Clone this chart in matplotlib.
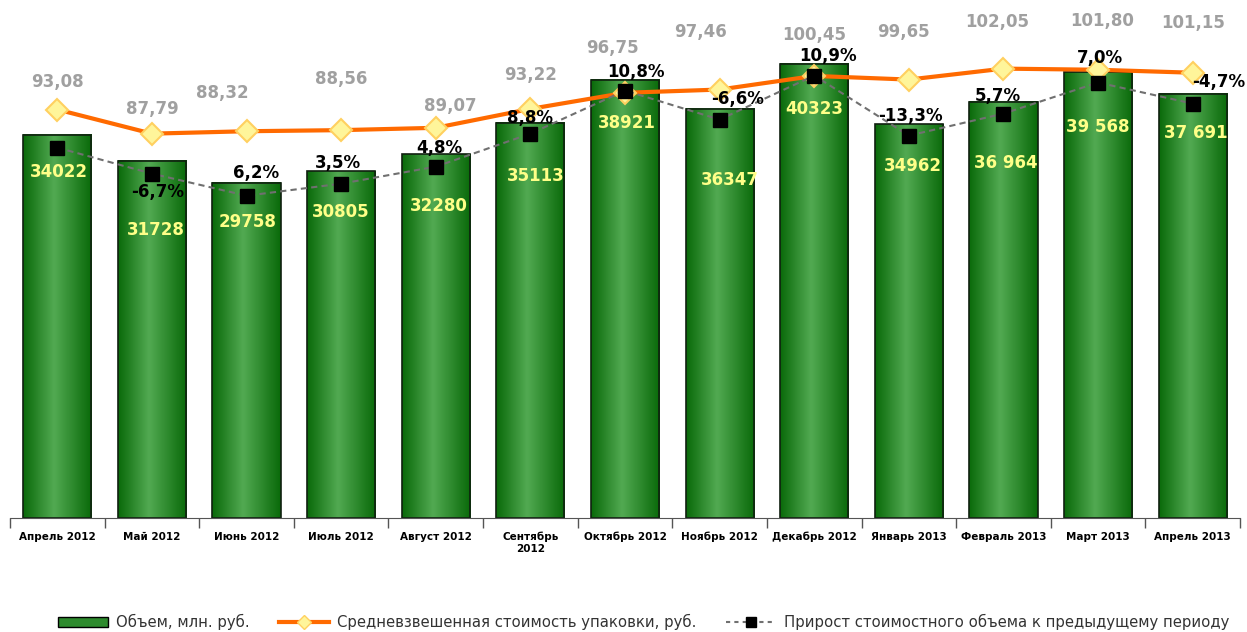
import numpy as np
import matplotlib
matplotlib.use("Agg")
import matplotlib.pyplot as plt
from matplotlib.colors import LinearSegmentedColormap
from matplotlib.patches import Patch
from matplotlib.lines import Line2D

# данные
months = ["Апрель 2012", "Май 2012", "Июнь 2012", "Июль 2012", "Август 2012",
          "Сентябрь\n2012", "Октябрь 2012", "Ноябрь 2012", "Декабрь 2012",
          "Январь 2013", "Февраль 2013", "Март 2013", "Апрель 2013"]
volume = [34022, 31728, 29758, 30805, 32280, 35113, 38921, 36347, 40323,
          34962, 36964, 39568, 37691]
volume_labels = ["34022", "31728", "29758", "30805", "32280", "35113", "38921",
                 "36347", "40323", "34962", "36 964", "39 568", "37 691"]
price = [93.08, 87.79, 88.32, 88.56, 89.07, 93.22, 96.75, 97.46, 100.45,
         99.65, 102.05, 101.80, 101.15]
# положение маркеров прироста (в единицах объема, как на картинке)
growth_marks = [32890, 30580, 28620, 29690, 31200, 34130, 37960, 35380,
                39290, 33960, 35910, 38670, 36800]
growth_labels = ["", "-6,7%", "6,2%", "3,5%", "4,8%", "8,8%", "10,8%",
                 "-6,6%", "10,9%", "-13,3%", "5,7%", "7,0%", "-4,7%"]

# сдвиги подписей (пиксели)
price_dx = [0, 0, -24, 0, 15, 0, -13, -19, 0, -5, -6, 4, 0]
price_dy = [28, 25, 38, 51, 22, 34, 45, 58, 41, 48, 47, 49, 50]
growth_dx = [0, 6, 10, -3, 4, 0, 11, 18, 14, 2, -6, 2, 26]
growth_dy = [0, -18, 23, 21, 19, 16, 19, 21, 20, 20, 18, 25, 22]
vol_dx = [2, 4, 1, 0, 3, 5, 2, 10, 0, 4, 2, 0, 3]
vol_dy = [37, 69, 39, 41, 52, 53, 43, 71, 45, 42, 61, 55, 39]

fig = plt.figure(figsize=(12.47, 6.32), dpi=100)
ax = fig.add_axes([10/1247, 1 - 518/632, 1230/1247, 518/632])
x = np.arange(len(months))
w = 0.72

cmap = LinearSegmentedColormap.from_list(
    "grn", [(0, "#0a6a0a"), (0.45, "#52aa52"), (1, "#0a6a0a")])
grad = np.linspace(0, 1, 64).reshape(1, -1)
for xi, v in zip(x, volume):
    ax.imshow(grad, extent=[xi - w/2, xi + w/2, 0, v], aspect="auto",
              cmap=cmap, zorder=1)
ax.bar(x, volume, width=w, facecolor="none", edgecolor="#102010",
       linewidth=1.2, zorder=2)
for i, v in enumerate(volume):
    ax.annotate(volume_labels[i], (x[i], v), xytext=(vol_dx[i], -vol_dy[i]),
                textcoords="offset pixels", ha="center", va="center",
                color="#FFFF88", fontsize=12, fontweight="bold", zorder=3)

ax.set_xlim(-0.5, len(months) - 0.5)
ax.set_ylim(0, 46000)
for s in ["top", "left", "right"]:
    ax.spines[s].set_visible(False)
ax.spines["bottom"].set_color("#555555")
ax.set_yticks([])
ax.set_xticks(x)
ax.set_xticklabels(months, fontsize=7.5, fontweight="bold")
ax.tick_params(axis="x", which="major", length=0, pad=10)
ax.set_xticks(np.arange(-0.5, len(months)), minor=True)
ax.tick_params(axis="x", which="minor", length=7, width=1.0, color="#555555",
               direction="out")

# средневзвешенная стоимость
ax2 = ax.twinx()
ax2.plot(x, price, color="#FF6A00", linewidth=3, marker="D", markersize=11,
         markerfacecolor="#FFF59A", markeredgecolor="#FFD060",
         markeredgewidth=1.5)
for i, p in enumerate(price):
    ax2.annotate(f"{p:.2f}".replace(".", ","), (x[i], p),
                 xytext=(price_dx[i], price_dy[i]), textcoords="offset pixels",
                 ha="center", va="center", color="#A0A0A0", fontsize=12,
                 fontweight="bold")
ax2.set_ylim(3.5, 117.1)
ax2.axis("off")

# прирост
ax3 = ax.twinx()
ax3.plot(x, growth_marks, color="#707070", linestyle=(0, (3, 2)), linewidth=1.5,
         marker="s", markersize=10, markerfacecolor="black",
         markeredgecolor="black")
for i, g in enumerate(growth_labels):
    if g:
        ax3.annotate(g, (x[i], growth_marks[i]),
                     xytext=(growth_dx[i], growth_dy[i]),
                     textcoords="offset pixels", ha="center", va="center",
                     color="black", fontsize=12, fontweight="bold")
ax3.set_ylim(0, 46000)
ax3.axis("off")

handles = [
    Patch(facecolor="#2e8b2e", edgecolor="black"),
    Line2D([0], [0], color="#FF6A00", linewidth=3, marker="D", markersize=7,
           markerfacecolor="#FFF59A", markeredgecolor="#FFD060"),
    Line2D([0], [0], color="#707070", linestyle=(0, (2, 2)), linewidth=1.5,
           marker="s", markersize=7, markerfacecolor="black",
           markeredgecolor="black"),
]
names = ["Объем, млн. руб.", "Средневзвешенная стоимость упаковки, руб.",
         "Прирост стоимостного объема к предыдущему периоду"]
leg = fig.legend(handles, names, loc="center", bbox_to_anchor=(0.516, 0.016),
                 ncol=3, frameon=False, fontsize=10.7, handlelength=3.4,
                 handletextpad=0.5, columnspacing=2.0, borderpad=0.1)
for t in leg.get_texts():
    t.set_color("#333333")

fig.savefig("out.png", dpi=100)
